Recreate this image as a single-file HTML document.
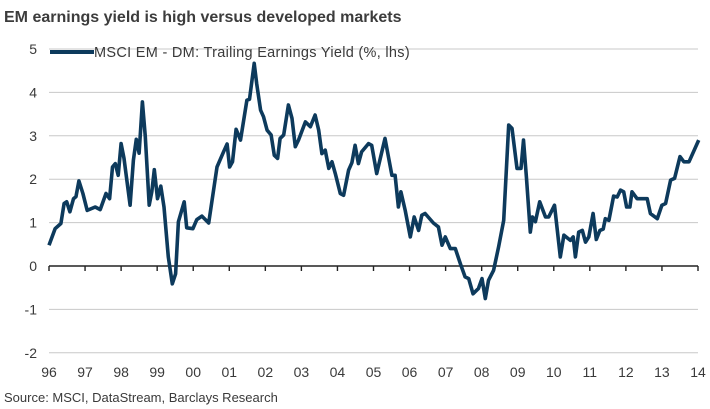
<!DOCTYPE html>
<html><head><meta charset="utf-8"><style>
body{margin:0;background:#fff;width:710px;height:409px;overflow:hidden;font-family:"Liberation Sans",sans-serif;}
svg{display:block}
</style></head><body>
<svg width="710" height="409">
<text x="4" y="22" font-size="16" font-weight="bold" fill="#3c3c3c">EM earnings yield is high versus developed markets</text>
<g id="grid"></g><g id="axes"></g>
<path id="line" fill="none" stroke="#0d3a5c" stroke-width="3.6" stroke-linejoin="round"/>
<g>
<rect x="50" y="50" width="44" height="4" fill="#0d3a5c"/>
<text x="94" y="57" font-size="14.5" letter-spacing="0.3" fill="#3a3a3a">MSCI EM - DM: Trailing Earnings Yield (%, lhs)</text>
</g>
<text x="4" y="402" font-size="13" fill="#3a3a3a">Source: MSCI, DataStream, Barclays Research</text>
</svg>
<script>
const yTicks=[5,4,3,2,1,0,-1,-2];
const xLabels=["96","97","98","99","00","01","02","03","04","05","06","07","08","09","10","11","12","13","14"];
const times=[0,.17,.33,.42,.49,.58,.68,.75,.83,.94,1.06,1.28,1.42,1.58,1.68,1.76,1.84,1.92,2.0,2.08,2.25,2.34,2.42,2.5,2.59,2.67,2.78,2.85,2.92,3.01,3.1,3.19,3.31,3.42,3.51,3.59,3.75,3.82,3.99,4.1,4.24,4.43,4.66,4.84,4.94,5.01,5.09,5.19,5.31,5.49,5.56,5.69,5.76,5.87,5.95,6.05,6.16,6.25,6.34,6.41,6.51,6.64,6.74,6.83,6.92,7.11,7.25,7.38,7.48,7.57,7.66,7.76,7.85,7.94,8.08,8.17,8.31,8.4,8.49,8.58,8.67,8.86,8.95,9.09,9.32,9.51,9.6,9.69,9.76,9.88,10.02,10.13,10.25,10.34,10.43,10.66,10.8,10.9,10.99,11.13,11.27,11.41,11.54,11.64,11.76,11.91,12.01,12.1,12.19,12.33,12.47,12.61,12.75,12.84,12.98,13.09,13.16,13.24,13.35,13.41,13.49,13.61,13.77,13.86,14.02,14.18,14.28,14.46,14.54,14.6,14.69,14.79,14.88,14.97,15.09,15.18,15.28,15.37,15.43,15.53,15.66,15.76,15.85,15.94,16.02,16.11,16.17,16.31,16.59,16.68,16.87,17.0,17.1,17.24,17.35,17.5,17.61,17.75,18.02];
const values=[.48,.86,.98,1.44,1.48,1.25,1.55,1.6,1.96,1.67,1.28,1.36,1.3,1.67,1.55,2.28,2.36,2.09,2.82,2.48,1.4,2.44,2.92,2.6,3.78,2.98,1.4,1.71,2.22,1.55,1.84,1.36,.21,-.41,-.18,1.02,1.48,.88,.86,1.07,1.15,.99,2.28,2.63,2.81,2.28,2.4,3.15,2.9,3.82,3.84,4.67,4.2,3.59,3.44,3.13,3.02,2.55,2.48,2.94,3.02,3.71,3.4,2.75,2.9,3.32,3.21,3.48,3.13,2.59,2.67,2.25,2.4,2.13,1.67,1.63,2.21,2.38,2.78,2.36,2.63,2.82,2.78,2.13,2.94,2.09,2.09,1.36,1.71,1.28,.67,1.13,.82,1.17,1.21,.99,.9,.48,.67,.4,.4,.05,-.25,-.29,-.64,-.52,-.29,-.75,-.33,-.1,.44,1.05,3.25,3.17,2.25,2.25,2.9,2.05,.78,1.13,1.02,1.48,1.13,1.13,1.4,.21,.71,.59,.67,.21,.78,.82,.55,.67,1.21,.61,.82,.85,1.09,1.05,1.61,1.59,1.75,1.71,1.36,1.36,1.71,1.55,1.55,1.21,1.09,1.4,1.44,1.98,2.02,2.52,2.4,2.4,2.9];
const NS="http://www.w3.org/2000/svg";
const X0=49,X1=698,Y0=266,PU=43.4;
function xs(t){return X0+t*(X1-X0)/18;}
function ys(v){return Y0-v*PU;}
const grid=document.getElementById('grid'),axes=document.getElementById('axes');
yTicks.forEach(v=>{
  if(v!==0){const l=document.createElementNS(NS,'line');
  l.setAttribute('x1',X0);l.setAttribute('x2',X1);l.setAttribute('y1',ys(v));l.setAttribute('y2',ys(v));
  l.setAttribute('stroke','#c8c8c8');l.setAttribute('stroke-width','1');
  
  
  grid.appendChild(l);}
  const t=document.createElementNS(NS,'text');
  t.setAttribute('x',37);t.setAttribute('y',ys(v)+5);t.setAttribute('text-anchor','end');
  t.setAttribute('font-size','14');t.setAttribute('fill','#3a3a3a');t.textContent=v<0?'-'+Math.abs(v):v;
  
  
  axes.appendChild(t);
});
const ax=document.createElementNS(NS,'line');
ax.setAttribute('x1',X0);ax.setAttribute('x2',X1);ax.setAttribute('y1',Y0);ax.setAttribute('y2',Y0);
ax.setAttribute('stroke','#222');ax.setAttribute('stroke-width','1.6');


axes.appendChild(ax);
xLabels.forEach((s,i)=>{
  const x=xs(i);
  const tk=document.createElementNS(NS,'line');
  tk.setAttribute('x1',x);tk.setAttribute('x2',x);tk.setAttribute('y1',Y0);tk.setAttribute('y2',Y0+5);
  tk.setAttribute('stroke','#222');tk.setAttribute('stroke-width','1.4');
  
  
  axes.appendChild(tk);
  const t=document.createElementNS(NS,'text');
  t.setAttribute('x',x);t.setAttribute('y',377);t.setAttribute('text-anchor','middle');
  t.setAttribute('font-size','14');t.setAttribute('fill','#3a3a3a');t.textContent=s;
  
  
  axes.appendChild(t);
});
document.getElementById('line').setAttribute('d',times.map((t,i)=>(i?'L':'M')+xs(t).toFixed(1)+','+ys(values[i]).toFixed(1)).join(''));
</script>
</body></html>
